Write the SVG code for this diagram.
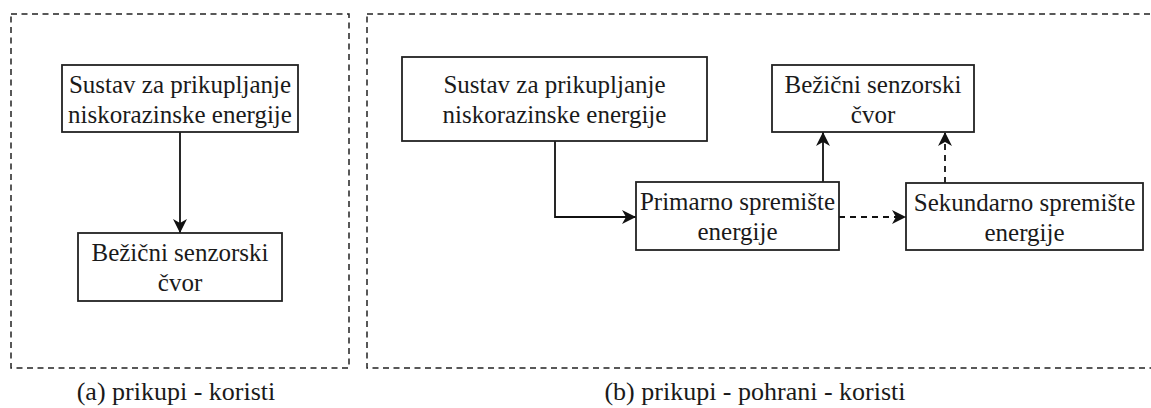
<svg xmlns="http://www.w3.org/2000/svg" width="1151" height="408" viewBox="0 0 1151 408">
<style>
.frame{fill:none;stroke:#222;stroke-width:1.5;stroke-dasharray:6 4.5}
.box{fill:#fff;stroke:#222;stroke-width:1.8}
.t{font-family:"Liberation Serif","Times New Roman",serif;font-size:25px;fill:#1a1a1a;text-anchor:middle}
.cap{font-family:"Liberation Serif","Times New Roman",serif;font-size:26px;fill:#1a1a1a;text-anchor:middle}
.c{fill:none;stroke:#111;stroke-width:1.8}
.d{stroke-dasharray:6 5}
</style>
<defs>
<marker id="ah" markerUnits="userSpaceOnUse" markerWidth="16" markerHeight="16" viewBox="0 0 16 16" refX="14" refY="8" orient="auto">
<path d="M0,1 L14,8 L0,15 L4,8 Z" fill="#111"/>
</marker>
</defs>
<g id="frames">
<rect class="frame" x="11" y="14" width="338" height="354"/>
<rect class="frame" x="367" y="14" width="800" height="354"/>
</g>
<g id="connectors">
<line class="c" x1="180" y1="132" x2="180" y2="233" marker-end="url(#ah)"/>
<polyline class="c" points="555,141 555,217 636,217" marker-end="url(#ah)"/>
<line class="c" x1="823" y1="182" x2="823" y2="132" marker-end="url(#ah)"/>
<line class="c d" x1="839" y1="217" x2="906" y2="217" marker-end="url(#ah)"/>
<line class="c d" x1="945" y1="183" x2="945" y2="132" marker-end="url(#ah)"/>
</g>
<g id="a-harvest">
<rect class="box" x="62" y="65" width="236" height="67"/>
<text class="t" x="180" y="92.5">Sustav za prikupljanje</text>
<text class="t" x="180" y="122.5">niskorazinske energije</text>
</g>
<g id="a-node">
<rect class="box" x="78" y="233" width="204" height="68"/>
<text class="t" x="180" y="261">Bežični senzorski</text>
<text class="t" x="180" y="291">čvor</text>
</g>
<g id="b-harvest">
<rect class="box" x="402" y="57" width="305" height="84"/>
<text class="t" x="554.5" y="92.5">Sustav za prikupljanje</text>
<text class="t" x="554.5" y="122.5">niskorazinske energije</text>
</g>
<g id="b-node">
<rect class="box" x="772" y="65" width="202" height="67"/>
<text class="t" x="873" y="92.5">Bežični senzorski</text>
<text class="t" x="873" y="122.5">čvor</text>
</g>
<g id="b-primary">
<rect class="box" x="636" y="182" width="203" height="68"/>
<text class="t" x="737.5" y="210">Primarno spremište</text>
<text class="t" x="737.5" y="240">energije</text>
</g>
<g id="b-secondary">
<rect class="box" x="906" y="183" width="237" height="67"/>
<text class="t" x="1024.5" y="210.5">Sekundarno spremište</text>
<text class="t" x="1024.5" y="240.5">energije</text>
</g>
<g id="captions">
<text class="cap" x="176" y="400">(a) prikupi - koristi</text>
<text class="cap" x="755" y="400">(b) prikupi - pohrani - koristi</text>
</g>
</svg>
